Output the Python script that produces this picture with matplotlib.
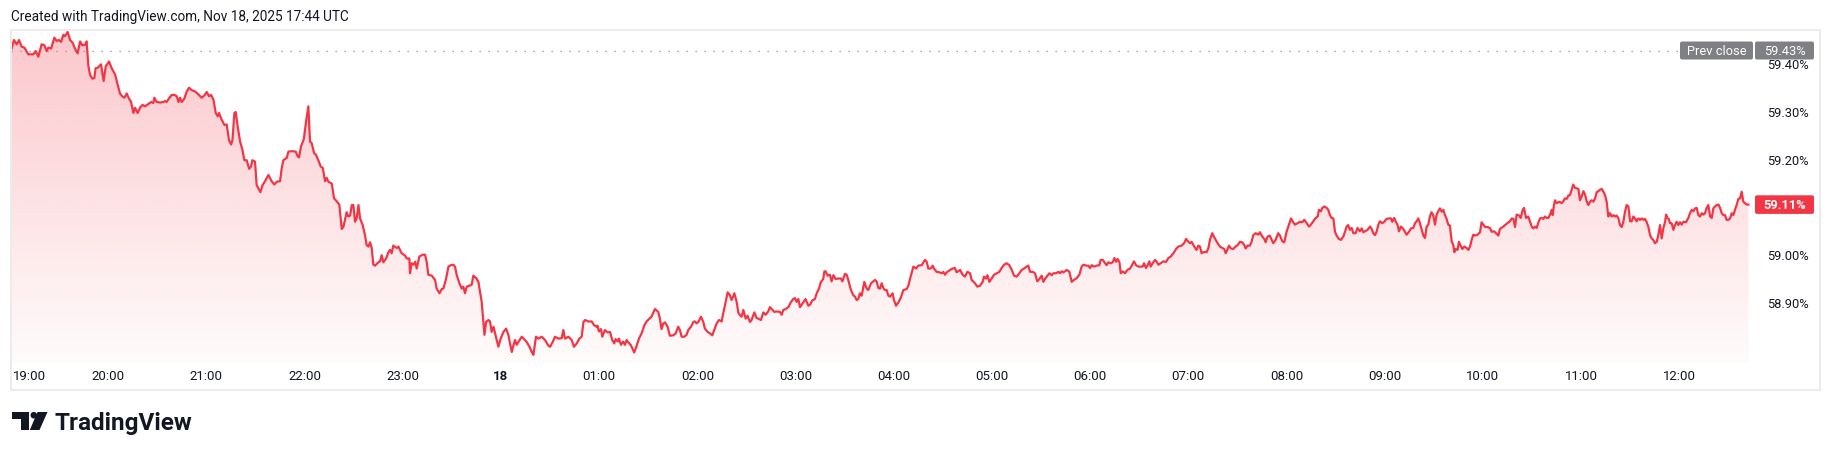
import numpy as np
import matplotlib
matplotlib.use("Agg")
import matplotlib.pyplot as plt
from matplotlib.patches import Rectangle, Polygon, Circle, FancyBboxPatch

plt.rcParams['font.family'] = ['Roboto', 'DejaVu Sans']

# ---------------- data ----------------
# minutes after 19:00 (Nov 17), value in %
minutes = [
    1.0, 2.4, 4.1, 5.5, 7.1, 8.8, 11.2, 14.3, 15.7, 17.3, 19.3, 21.0, 22.4, 23.4, 25.1, 27.1, 28.5, 29.9,
    31.2, 32.6, 33.6, 35.2, 36.7, 38.3, 39.7, 41.3, 42.8, 44.2, 45.8, 46.8, 47.9, 48.9, 50.3, 51.5, 52.3,
    53.6, 55.6, 57.2, 58.5, 60.5, 62.1, 64.2, 65.8, 67.2, 68.6, 69.9, 71.3, 72.7, 73.9, 75.4, 76.4, 78.0,
    79.4, 80.9, 82.5, 84.1, 86.2, 87.6, 88.2, 89.6, 91.7, 93.7, 94.7, 95.7, 97.2, 98.8, 100.4, 101.9,
    102.9, 103.9, 104.9, 106.5, 108.0, 109.4, 111.0, 113.1, 115.1, 117.1, 118.8, 120.2, 121.6, 122.8,
    124.3, 125.7, 126.9, 127.7, 129.3, 131.0, 132.4, 133.8, 135.1, 135.9, 137.1, 137.9, 139.1, 140.6,
    142.0, 143.2, 144.6, 146.1, 147.3, 148.1, 149.7, 150.7, 151.8, 153.0, 154.2, 155.8, 157.9, 159.9,
    161.5, 163.0, 165.0, 166.0, 167.0, 169.1, 170.1, 172.1, 174.6, 175.8, 176.6, 177.8, 179.3,
    179.6, 180.9, 182.3, 183.3, 184.3, 185.8, 187.0, 188.4, 189.8, 191.1, 192.5, 193.5, 194.5, 196.6,
    198.0, 199.6, 201.2, 202.7, 203.7, 205.7, 206.7, 207.8, 208.8, 209.8, 210.8, 211.8, 212.9, 213.9,
    215.5, 216.9, 217.9, 219.0, 220.0, 221.0, 222.0, 223.0, 225.1, 226.1, 227.1, 228.1, 229.8, 231.2,
    232.2, 233.2, 234.2, 236.3, 237.3, 239.3, 241.4, 242.4, 244.0, 244.4, 245.4, 246.5, 247.5, 248.5,
    250.1, 252.2, 253.6, 254.6, 255.6, 257.7, 259.7, 260.7, 262.4, 263.8, 264.8, 266.4, 267.9, 269.3,
    270.9, 271.9, 272.9, 274.6, 276.0, 277.0, 278.0, 279.1, 280.7, 282.1, 283.1, 284.8, 286.2, 287.2,
    288.2, 289.2, 289.9, 290.9, 292.3, 293.3, 294.3, 295.4, 296.4, 297.4, 298.4, 299.8, 301.5, 303.1,
    304.5, 305.5, 306.6, 307.6, 308.6, 309.6, 310.6, 312.7, 314.1, 315.7, 317.4, 318.8, 319.8, 321.4,
    322.9, 324.9, 326.9, 329.0, 330.0, 331.6, 333.0, 335.1, 337.1, 338.1, 339.1, 341.2, 343.2, 344.6,
    346.3, 347.9, 349.3, 350.4, 351.4, 353.4, 355.4, 356.9, 358.5,
    359.0, 359.8, 361.1, 361.9, 363.5, 365.1, 366.6, 368.0, 369.2, 370.0, 371.3, 372.1, 373.3, 374.7,
    375.7, 376.8, 377.8, 379.4, 380.2, 381.4, 382.9, 384.3, 385.9, 387.6, 389.0, 390.4, 392.0, 393.1,
    394.1, 396.1, 397.1, 398.1, 399.2, 400.2, 401.8, 403.2, 405.3, 406.7, 408.3, 409.3, 410.4, 412.0,
    413.4, 414.4, 416.1, 417.5, 418.5, 419.5, 420.6, 422.2, 423.6, 424.6, 426.3, 427.7, 429.1, 430.3,
    431.8, 433.2, 434.8, 435.8, 437.3, 438.5, 439.9, 440.9, 442.6, 444.0, 445.0, 446.0, 447.0, 448.1,
    449.5, 450.7, 452.1, 453.1, 454.8, 456.2, 457.2, 458.8, 460.3, 461.7, 463.3, 464.3, 465.4, 467.0,
    468.4, 470.5, 471.5, 472.5, 473.9, 475.6, 477.2, 478.6, 479.6, 480.6, 481.7, 482.7, 483.7, 484.7,
    486.1, 487.8, 488.8, 490.2, 491.8, 492.9, 494.3, 495.5, 496.9, 497.6, 498.4, 499.6, 501.0, 502.0,
    503.1, 504.5, 506.1, 507.7, 508.6, 510.2, 511.2, 512.2, 513.8, 515.3, 516.3, 517.3, 518.3, 519.3,
    520.4, 522.0, 523.4, 524.4, 526.1, 527.5, 528.5, 529.5, 530.6, 531.6, 532.6, 533.6, 534.6, 535.6,
    536.7, 537.7,
    539.3, 540.1, 541.4, 542.8, 544.2, 545.9, 547.9, 548.9, 550.3, 552.0, 553.6, 555.0, 557.1, 558.1,
    559.1, 560.1, 561.1, 562.6, 563.8, 564.6, 566.2, 567.9, 569.3, 570.3, 571.3, 572.7, 574.4, 576.0,
    577.4, 578.4, 580.5, 582.1, 583.5, 585.0, 586.6, 587.6, 589.6, 591.1, 592.7, 594.3, 595.1, 596.4,
    597.2, 598.4, 599.8, 601.3, 602.9, 604.5, 605.9, 607.4, 609.0, 610.6, 612.1, 613.5, 615.1, 616.7,
    618.2, 619.6, 621.2, 622.2, 623.3, 624.9, 626.3, 627.7, 629.0, 630.4, 631.4, 632.4, 633.9, 635.1,
    636.5, 637.5, 639.1, 640.6, 641.6, 642.6, 643.6, 644.6, 645.7, 647.3, 648.7, 650.1, 651.8, 653.4,
    654.8, 655.9, 657.5, 658.9, 659.9, 660.9, 662.4, 664.0, 665.6, 666.4, 667.7, 669.1, 670.1, 671.1,
    672.6, 673.8, 674.8, 675.8, 676.8, 677.9, 678.7, 679.9, 681.3, 682.7, 684.4, 685.4, 686.8, 688.0,
    689.5, 690.9, 692.1, 692.9, 694.1, 695.0, 696.2, 697.0, 698.2, 699.6, 700.7, 701.7, 703.1, 704.7,
    706.4, 707.8, 709.2, 710.9, 712.5, 713.9, 715.9, 717.4, 718.6, 720.0,
    721.0, 722.0, 723.6, 725.0, 726.1, 727.1, 728.1, 729.7, 731.1, 732.2, 733.2, 734.6, 736.2, 737.9,
    739.3, 740.7, 741.9, 742.8, 744.0, 744.8, 746.0, 747.4, 748.9, 750.1, 751.5, 752.9, 754.2, 755.0,
    756.2, 757.6, 758.6, 759.7, 761.1, 762.7, 763.7, 765.2, 766.4, 767.2, 768.4, 769.8, 770.9, 771.9,
    773.3, 774.9, 776.0, 777.4, 778.6, 780.0, 781.5, 782.7, 784.1, 785.1, 786.8, 788.2, 789.6, 790.8,
    792.3, 793.7, 794.9, 796.3, 797.8, 799.0, 799.8, 801.0, 801.8, 803.1, 804.5, 805.5, 806.5, 807.5,
    808.6, 809.6, 810.6, 812.0, 813.2, 814.7, 815.7, 816.7, 817.7, 818.7, 819.8, 820.8, 822.2, 823.4,
    824.8, 825.9, 826.9, 827.9, 829.5, 831.0, 832.0, 833.0, 834.0, 835.0, 836.1, 837.1, 838.5, 839.7,
    841.1, 842.6, 843.8, 844.6, 845.8, 846.6, 847.9, 848.7, 849.9, 851.3, 852.3, 853.4, 854.8, 856.0,
    857.4, 858.5, 859.5, 860.5, 861.5, 862.5, 863.6, 864.6, 865.6, 866.6, 867.6, 868.6, 869.7, 870.7,
    871.7, 872.7, 873.7, 874.8, 875.8, 876.8, 877.8, 878.8, 879.8, 880.9, 881.9, 882.5, 883.3, 884.5,
    885.3, 886.6, 887.4, 888.6, 890.0, 891.1, 892.1, 893.1, 894.1, 895.1, 896.8, 898.2, 899.2,
    900.2, 901.3, 902.7, 904.3, 905.3, 906.8, 908.0, 909.4, 910.4, 912.1, 913.5, 914.9, 916.5, 917.6,
    918.6, 919.6, 920.6, 922.2, 923.1, 924.3, 925.1, 926.3, 927.7, 928.8, 929.8, 930.8, 931.8, 932.8,
    933.9, 934.9, 935.9, 936.9, 937.9, 938.9, 940.0, 941.0, 942.0, 942.6, 943.4, 944.0, 945.1, 946.7,
    948.1, 949.1, 950.1, 951.2, 952.2, 953.2, 954.2, 955.2, 956.3, 957.3, 958.3, 959.3, 960.3, 961.4,
    962.4, 963.4, 964.4, 965.4, 966.4, 967.5, 968.5, 969.5, 970.5, 971.5, 972.6, 973.6, 974.6, 975.6,
    976.6, 977.6, 978.7, 979.7, 980.7, 981.7, 982.7, 983.8, 984.8, 985.8, 986.8, 987.8, 988.9, 989.9,
    990.9, 991.9, 992.9, 993.9, 995.0, 996.0, 997.0, 998.0, 999.0, 1000.1, 1001.1, 1002.1, 1003.1,
    1004.1, 1005.1, 1006.2, 1007.2, 1008.2, 1009.2, 1010.2, 1011.3, 1011.9, 1012.7, 1013.5, 1014.3,
    1015.3, 1016.4, 1017.4, 1018.4, 1019.4, 1020.4, 1021.4, 1022.5, 1024.1, 1025.5, 1026.5, 1027.6,
    1028.6, 1029.6, 1030.6, 1031.6, 1032.6, 1033.7, 1034.7, 1035.7, 1036.7, 1037.7, 1038.8, 1039.8,
    1040.8, 1041.8, 1042.8, 1043.9, 1044.9, 1045.9, 1046.9, 1047.9, 1048.9, 1050.0, 1051.0, 1052.0,
    1053.0, 1054.0, 1055.1, 1056.1, 1057.1, 1058.1, 1059.1, 1060.1, 1061.2, 1062.2,
]

values = [
    59.434, 59.452, 59.443, 59.452, 59.438, 59.436, 59.422, 59.422, 59.429, 59.417, 59.443, 59.441, 59.429,
    59.436, 59.434, 59.457, 59.450, 59.452, 59.448, 59.463, 59.460, 59.469, 59.452, 59.446, 59.434, 59.424,
    59.449, 59.441, 59.442, 59.449, 59.397, 59.379, 59.371, 59.372, 59.393, 59.394, 59.401, 59.366, 59.397,
    59.407, 59.393, 59.380, 59.358, 59.340, 59.334, 59.331, 59.340, 59.329, 59.323, 59.299, 59.310, 59.299,
    59.310, 59.316, 59.313, 59.317, 59.322, 59.320, 59.331, 59.322, 59.321, 59.322, 59.324, 59.322, 59.330,
    59.337, 59.337, 59.334, 59.322, 59.331, 59.322, 59.329, 59.344, 59.352, 59.347, 59.344, 59.338, 59.331,
    59.336, 59.343, 59.334, 59.337, 59.327, 59.299, 59.292, 59.299, 59.285, 59.274, 59.275, 59.242, 59.233,
    59.242, 59.299, 59.301, 59.271, 59.239, 59.222, 59.200, 59.200, 59.182, 59.187, 59.200, 59.197, 59.148,
    59.141, 59.133, 59.147, 59.156, 59.169, 59.156, 59.149, 59.155, 59.156, 59.183, 59.200, 59.205, 59.218,
    59.219, 59.218, 59.208, 59.206, 59.229, 59.242,
    59.246, 59.281, 59.313, 59.239, 59.236, 59.215, 59.211, 59.200, 59.187, 59.184, 59.156, 59.163, 59.155,
    59.151, 59.120, 59.114, 59.107, 59.056, 59.060, 59.091, 59.082, 59.084, 59.106, 59.106, 59.071, 59.078,
    59.106, 59.078, 59.064, 59.043, 59.022, 59.019, 59.028, 59.016, 58.981, 58.979, 58.986, 58.988, 59.001,
    58.986, 58.994, 59.007, 59.012, 59.005, 59.021, 59.016, 59.019, 59.005, 59.000, 58.994, 58.994, 58.963,
    58.984, 58.981, 58.987, 58.973, 58.998, 59.002, 59.002, 58.987, 58.960, 58.958, 58.949, 58.931, 58.921,
    58.930, 58.931, 58.951, 58.977, 58.980, 58.981, 58.977, 58.960, 58.942, 58.931, 58.935, 58.921, 58.935,
    58.937, 58.939, 58.958, 58.953, 58.945, 58.924, 58.903, 58.861, 58.834, 58.861, 58.865, 58.862, 58.840,
    58.851, 58.837, 58.823, 58.809, 58.826, 58.840, 58.847, 58.834, 58.816, 58.798, 58.812, 58.823, 58.813,
    58.819, 58.830, 58.825, 58.819, 58.809, 58.798, 58.792, 58.830, 58.826, 58.830, 58.823, 58.811, 58.809,
    58.819, 58.830, 58.826, 58.827, 58.844, 58.826, 58.830, 58.823, 58.809, 58.816, 58.826, 58.830, 58.861,
    58.865, 58.862, 58.862, 58.854, 58.851,
    58.853, 58.841, 58.846, 58.830, 58.844, 58.839, 58.840, 58.823, 58.816, 58.825, 58.820, 58.826, 58.813,
    58.820, 58.813, 58.823, 58.818, 58.812, 58.806, 58.797, 58.811, 58.826, 58.837, 58.854, 58.862, 58.867,
    58.872, 58.881, 58.888, 58.882, 58.868, 58.846, 58.858, 58.860, 58.851, 58.832, 58.833, 58.837, 58.851,
    58.844, 58.830, 58.830, 58.834, 58.844, 58.851, 58.861, 58.862, 58.858, 58.861, 58.872, 58.861, 58.847,
    58.840, 58.837, 58.833, 58.844, 58.858, 58.865, 58.862, 58.879, 58.903, 58.923, 58.917, 58.907, 58.921,
    58.903, 58.881, 58.875, 58.872, 58.886, 58.868, 58.874, 58.861, 58.865, 58.881, 58.869, 58.868, 58.865,
    58.881, 58.876, 58.883, 58.892, 58.888, 58.882, 58.883, 58.882, 58.876, 58.886, 58.888, 58.892, 58.903,
    58.909, 58.911, 58.903, 58.909, 58.892, 58.897, 58.902, 58.909, 58.895, 58.897, 58.906, 58.909, 58.921,
    58.931, 58.945, 58.951, 58.967, 58.967, 58.958, 58.960, 58.946, 58.959, 58.951, 58.952, 58.952, 58.946,
    58.962, 58.960, 58.949, 58.928, 58.917, 58.914, 58.907, 58.909, 58.921, 58.916, 58.945, 58.931, 58.928,
    58.942, 58.946, 58.949, 58.946, 58.932, 58.931, 58.942, 58.932, 58.928, 58.928, 58.916, 58.914,
    58.921, 58.907, 58.895, 58.902, 58.911, 58.928, 58.930, 58.937, 58.956, 58.977, 58.973, 58.979, 58.980,
    58.986, 58.991, 58.987, 58.973, 58.973, 58.979, 58.973, 58.966, 58.965, 58.963, 58.966, 58.960, 58.966,
    58.970, 58.973, 58.974, 58.965, 58.970, 58.960, 58.956, 58.966, 58.963, 58.949, 58.942, 58.935, 58.937,
    58.945, 58.956, 58.952, 58.959, 58.945, 58.952, 58.960, 58.963, 58.966, 58.974, 58.981, 58.984, 58.980,
    58.970, 58.958, 58.956, 58.963, 58.970, 58.973, 58.977, 58.979, 58.966, 58.966, 58.963, 58.946, 58.951,
    58.958, 58.945, 58.951, 58.958, 58.963, 58.959, 58.963, 58.963, 58.966, 58.963, 58.967, 58.965, 58.967,
    58.970, 58.966, 58.945, 58.949, 58.953, 58.960, 58.977, 58.981, 58.979, 58.979, 58.974, 58.980, 58.977,
    58.979, 58.980, 58.991, 58.991, 58.984, 58.980, 58.986, 58.984, 58.986, 58.995, 58.987, 58.993, 58.986,
    58.963, 58.967, 58.963, 58.970, 58.973, 58.979, 58.988, 58.980, 58.977, 58.977, 58.977, 58.984, 58.974,
    58.979, 58.988, 58.977, 58.984, 58.991, 58.987, 58.981, 58.984, 58.988, 58.987, 58.995, 58.998, 59.005,
    59.014, 59.019, 59.021, 59.026, 59.035, 59.029,
    59.026, 59.029, 59.019, 59.012, 59.021, 59.019, 59.005, 59.008, 59.007, 59.015, 59.033, 59.047, 59.036,
    59.026, 59.019, 59.016, 59.014, 59.005, 59.014, 59.021, 59.015, 59.014, 59.019, 59.022, 59.029, 59.028,
    59.022, 59.015, 59.021, 59.021, 59.029, 59.043, 59.047, 59.044, 59.049, 59.040, 59.035, 59.028, 59.040,
    59.042, 59.033, 59.026, 59.033, 59.047, 59.042, 59.030, 59.028, 59.050, 59.065, 59.078, 59.070, 59.065,
    59.068, 59.071, 59.070, 59.075, 59.068, 59.061, 59.065, 59.072, 59.079, 59.082, 59.096, 59.093, 59.100,
    59.103, 59.100, 59.096, 59.085, 59.079, 59.078, 59.050, 59.042, 59.035, 59.033, 59.040, 59.050, 59.061,
    59.064, 59.054, 59.058, 59.047, 59.047, 59.058, 59.051, 59.057, 59.049, 59.051, 59.054, 59.061, 59.056,
    59.047, 59.043, 59.050, 59.065, 59.072, 59.068, 59.071, 59.077, 59.078, 59.078, 59.071, 59.079, 59.072,
    59.064, 59.051, 59.061, 59.056, 59.050, 59.044, 59.050, 59.057, 59.058, 59.068, 59.072, 59.078, 59.068,
    59.056, 59.042, 59.037, 59.061, 59.065, 59.082, 59.091, 59.084, 59.065, 59.086, 59.093, 59.099, 59.092,
    59.096, 59.085, 59.077, 59.065, 59.063, 59.030, 59.022, 59.007, 59.014, 59.012, 59.029, 59.019, 59.014,
    59.019, 59.016, 59.012, 59.019, 59.033, 59.044, 59.042, 59.044, 59.049, 59.070,
    59.065, 59.060, 59.060, 59.058, 59.050, 59.051, 59.047, 59.042, 59.056, 59.060, 59.064, 59.068, 59.072,
    59.078, 59.077, 59.060, 59.086, 59.084, 59.079, 59.096, 59.100, 59.079, 59.082, 59.071, 59.061, 59.057,
    59.061, 59.058, 59.070, 59.078, 59.079, 59.077, 59.082, 59.079, 59.079, 59.086, 59.096, 59.085, 59.106,
    59.116, 59.110, 59.113, 59.110, 59.114, 59.120, 59.119, 59.126, 59.127, 59.138, 59.149, 59.142, 59.141,
    59.140, 59.116, 59.124, 59.135, 59.128, 59.114, 59.106, 59.113, 59.116, 59.113, 59.120, 59.133, 59.135,
    59.138, 59.140, 59.134, 59.127, 59.113, 59.082, 59.089, 59.082, 59.085, 59.082, 59.084, 59.079, 59.064,
    59.060, 59.071, 59.092, 59.106, 59.103, 59.072, 59.072, 59.082, 59.078, 59.072, 59.078, 59.075, 59.078,
    59.075, 59.077, 59.070, 59.060, 59.043, 59.036, 59.033, 59.026, 59.029, 59.044, 59.064, 59.036, 59.057,
    59.071, 59.086, 59.079, 59.077, 59.068, 59.068, 59.054, 59.065, 59.071, 59.064, 59.070, 59.065, 59.071,
    59.070, 59.079, 59.089, 59.096, 59.093, 59.099, 59.100, 59.085, 59.082, 59.089, 59.086, 59.089, 59.100,
    59.106, 59.082, 59.079, 59.099, 59.103, 59.106, 59.107, 59.100, 59.089, 59.085, 59.085, 59.075, 59.075,
    59.078, 59.089, 59.085, 59.096, 59.107, 59.119, 59.120, 59.134, 59.113, 59.110, 59.107, 59.107,
]

prev_close = 59.43
y_ticks = [58.90, 59.00, 59.20, 59.30, 59.40]
x_tick_hours = list(range(20, 37))          # 20:00 (Nov 17) ... 12:00 (Nov 18)
x_tick_labels = ["20:00", "21:00", "22:00", "23:00", "18", "01:00", "02:00", "03:00", "04:00",
                 "05:00", "06:00", "07:00", "08:00", "09:00", "10:00", "11:00", "12:00"]
first_label = "19:00"
header = "Created with TradingView.com, Nov 18, 2025 17:44 UTC"
brand = "TradingView"

# ---------------- style ----------------
RED = "#f23645"
TXT = "#131722"
GREY_BOX = "#7f8084"

W, H = 1831, 458
fig = plt.figure(figsize=(W / 100, H / 100), dpi=100)
fig.patch.set_facecolor("white")

# chart pane (pixels)
pl, pr, pt, pb = 11, 1752, 30, 362
ax = fig.add_axes([pl / W, 1 - pb / H, (pr - pl) / W, (pb - pt) / H])
xmin, xmax = 0.6, 1064.4
ymin, ymax = 58.777, 59.473

t = np.array(minutes)
v = np.array(values)

# gradient area fill
n = 256
grad = np.zeros((n, 1, 4))
grad[:, 0, :3] = np.array([242, 54, 69]) / 255.0
grad[:, 0, 3] = np.linspace(0.02, 0.28, n)
im = ax.imshow(grad, extent=[xmin, xmax, ymin, ymax], origin="lower", aspect="auto",
               interpolation="bilinear", zorder=1)
verts = np.vstack([[t[0], ymin], np.column_stack([t, v]), [t[-1], ymin]])
clip = Polygon(verts, closed=True, transform=ax.transData, facecolor="none", edgecolor="none")
ax.add_patch(clip)
im.set_clip_path(clip)

ax.plot(t, v, color=RED, lw=1.6, solid_joinstyle="round", zorder=3)
ax.axhline(prev_close, color="#8a8d96", lw=0.9, dashes=(1.0, 6.2), zorder=2)

ax.set_xlim(xmin, xmax)
ax.set_ylim(ymin, ymax)
ax.set_xticks([])
ax.set_yticks([])
for s in ax.spines.values():
    s.set_visible(False)
ax.patch.set_alpha(0)

# ---------------- overlay in pixel coordinates ----------------
ov = fig.add_axes([0, 0, 1, 1], zorder=5)
ov.set_xlim(0, W)
ov.set_ylim(H, 0)
ov.axis("off")


def ypx(val):
    return H - ax.transData.transform((xmin, val))[1]


def xpx(m):
    return ax.transData.transform((m, ymin))[0]


# outer frame
ov.add_patch(Rectangle((11, 30), 1809, 360, fill=False, edgecolor="#ececec", lw=1.5))

# header
ov.text(11, 21.5, header, fontsize=9.8, color=TXT, ha="left", va="baseline")

# price axis labels
for yt in y_ticks:
    ov.text(1767, ypx(yt) + 4.6, f"{yt:.2f}%", fontsize=9.3, color=TXT, ha="left", va="baseline")

# time axis labels
lab_y = 380
ov.text(12.6, lab_y, first_label, fontsize=9.5, color=TXT, ha="left", va="baseline")
for h, lab in zip(x_tick_hours, x_tick_labels):
    ov.text(xpx((h - 19) * 60), lab_y, lab, fontsize=9.5, color=TXT, ha="center", va="baseline",
            fontweight="bold" if lab == "18" else "normal")

# prev close labels
yp = ypx(prev_close)
ov.add_patch(FancyBboxPatch((1680, yp - 9), 73, 18, boxstyle="round,pad=0,rounding_size=2",
                            facecolor=GREY_BOX, edgecolor="none"))
ov.add_patch(FancyBboxPatch((1755, yp - 9), 59, 18, boxstyle="round,pad=0,rounding_size=2",
                            facecolor=GREY_BOX, edgecolor="none"))
ov.text(1716.5, yp + 4.6, "Prev close", fontsize=9.3, color="white", ha="center", va="baseline")
ov.text(1784.5, yp + 4.6, f"{prev_close:.2f}%", fontsize=9.3, color="white", ha="center", va="baseline")

# last value label
yl = ypx(values[-1])
ov.add_patch(FancyBboxPatch((1755, yl - 9.3), 59, 18.6, boxstyle="round,pad=0,rounding_size=2",
                            facecolor=RED, edgecolor="none"))
ov.text(1784.5, yl + 4.8, f"{values[-1]:.2f}%", fontsize=9.3, color="white", ha="center",
        va="baseline", fontweight="bold")

# TradingView logo
ov.add_patch(Polygon([(12.5, 412), (29, 412), (29, 430), (21, 430), (21, 418.5), (12.5, 418.5)],
                     closed=True, facecolor="#131722", edgecolor="none"))
ov.add_patch(Circle((33.8, 415.2), 3.3, facecolor="#131722", edgecolor="none"))
ov.add_patch(Polygon([(37.5, 412), (47.5, 412), (39.5, 430), (29.8, 430)],
                     closed=True, facecolor="#131722", edgecolor="none"))
ov.text(55, 430, brand, fontsize=17.5, fontweight="bold", color="#131722", ha="left", va="baseline")

fig.savefig("out.png", dpi=100, facecolor="white")
